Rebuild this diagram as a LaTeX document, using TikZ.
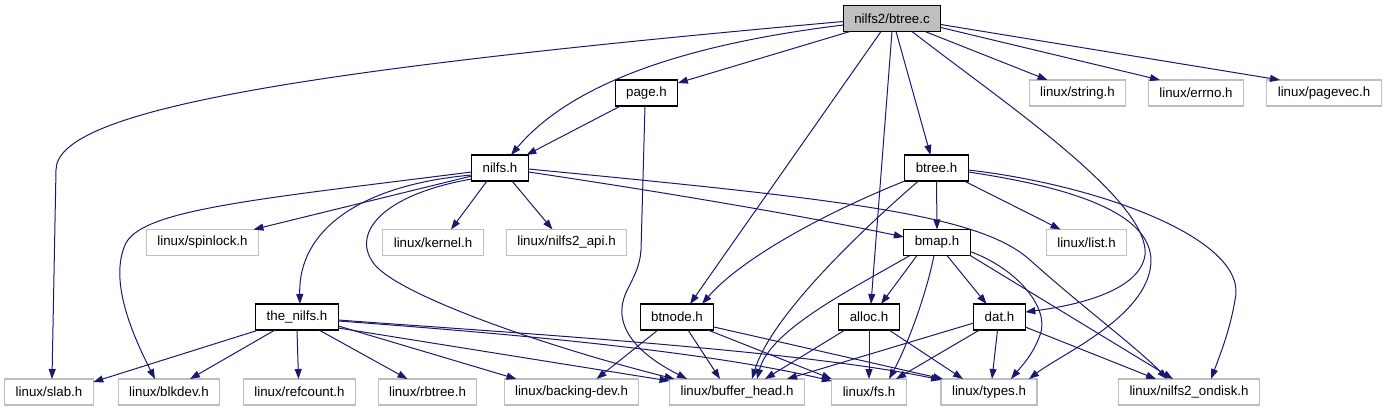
\documentclass[tikz,border=0pt]{standalone}
\usepackage{fontspec}
\setmainfont{Liberation Sans}
\usetikzlibrary{arrows.meta}
\definecolor{edgeblue}{HTML}{191970}
\definecolor{extgray}{HTML}{BFBFBF}
\definecolor{rootgray}{HTML}{BFBFBF}
\begin{document}
\begin{tikzpicture}[x=1pt,y=-1pt,
  box/.style={font=\fontsize{13.3}{15}\selectfont, inner xsep=11pt, inner ysep=0pt, minimum height=26pt, outer sep=0pt, line width=1.1pt, fill=white},
  ext/.style={box, draw=extgray},
  int/.style={box, draw=black},
  root/.style={box, draw=black, fill=rootgray},
  dep/.style={draw=edgeblue, line width=1pt, -{Triangle[length=10pt,width=7pt]}}]
\useasboundingbox (0,0) rectangle (1386,411);
% nodes
\node[root] (btreec) at (892,18.5) {nilfs2/btree.c};
\node[int] (pageh) at (646.5,93) {page.h};
\node[ext] (string) at (1077.5,93) {linux/string.h};
\node[ext] (errno) at (1196,93) {linux/errno.h};
\node[ext] (pagevec) at (1324,93) {linux/pagevec.h};
\node[int] (nilfs) at (500,168) {nilfs.h};
\node[int] (btreeh) at (936.5,168) {btree.h};
\node[ext] (spinlock) at (202.5,242.5) {linux/spinlock.h};
\node[ext] (kernel) at (433,242.5) {linux/kernel.h};
\node[ext] (api) at (566.5,242.5) {linux/nilfs2\_api.h};
\node[int] (bmap) at (937,242.5) {bmap.h};
\node[ext] (list) at (1086.5,242.5) {linux/list.h};
\node[int] (thenilfs) at (297,317) {the\_nilfs.h};
\node[int] (btnode) at (677,317) {btnode.h};
\node[int] (alloc) at (869,317) {alloc.h};
\node[int] (dat) at (999.5,317) {dat.h};
\node[ext] (slab) at (49,392) {linux/slab.h};
\node[ext] (blkdev) at (169,392) {linux/blkdev.h};
\node[ext] (refcount) at (299.5,392) {linux/refcount.h};
\node[ext] (rbtree) at (427.5,392) {linux/rbtree.h};
\node[ext] (backing) at (571.5,392) {linux/backing-dev.h};
\node[ext] (bufferhead) at (737,392) {linux/buffer\_head.h};
\node[ext] (fs) at (869,392) {linux/fs.h};
\node[ext] (types) at (989,392) {linux/types.h};
\node[ext] (ondisk) at (1189,392) {linux/nilfs2\_ondisk.h};
% btree.c
\draw[dep] ([yshift=-3pt]btreec.west) .. controls (300,70) and (56,110) .. (56,170) -- ([xshift=3pt]slab.north);
\draw[dep] ([yshift=-6.5pt]btreec.west) .. controls (680,45) and (570,85) .. ([xshift=11pt]nilfs.north);
\draw[dep] ([xshift=-42pt]btreec.south) -- ([yshift=-3pt]pageh.north east);
\draw[dep] ([xshift=-11pt]btreec.south) -- ([xshift=13pt]btnode.north);
\draw[dep] (btreec.south) -- ([xshift=2pt]alloc.north);
\draw[dep] ([xshift=4pt]btreec.south) -- ([xshift=-6pt]btreeh.north);
\draw[dep] ([xshift=20pt]btreec.south) .. controls (1000,100) and (1150,200) .. (1145,255) .. controls (1140,290) and (1080,305) .. ([yshift=5pt]dat.east);
\draw[dep] ([xshift=33pt]btreec.south) -- ([xshift=-30pt]string.north);
\draw[dep] ([yshift=4pt]btreec.south east) -- ([xshift=-36pt]errno.north);
\draw[dep] ([yshift=7pt]btreec.south east) -- ([xshift=-44pt]pagevec.north);
% page.h
\draw[dep] ([xshift=-26pt]pageh.south) -- ([xshift=-2pt]nilfs.north east);
\draw[dep] ([xshift=-1.5pt]pageh.south) -- (641,250) .. controls (639,280) and (620,290) .. (622,315) .. controls (625,345) and (660,365) .. ([xshift=-50pt]bufferhead.north);
% nilfs.h
\draw[dep] ([yshift=-7pt]nilfs.west) .. controls (360,185) and (298,230) .. ([xshift=3pt]thenilfs.north);
\draw[dep] ([yshift=-4pt]nilfs.west) .. controls (250,200) and (140,210) .. (125,245) .. controls (110,280) and (130,330) .. ([xshift=-14pt]blkdev.north);
\draw[dep] ([yshift=-8pt]nilfs.west) -- ([xshift=51pt]spinlock.north);
\draw[dep] ([yshift=-11pt]nilfs.west) .. controls (380,195) and (350,235) .. (375,265) .. controls (400,295) and (540,345) .. ([xshift=5pt]bufferhead.north west);
\draw[dep] ([xshift=-13pt]nilfs.south) -- ([xshift=18pt]kernel.north);
\draw[dep] ([xshift=12pt]nilfs.south) -- ([xshift=-14pt]api.north);
\draw[dep] ([yshift=-4pt]nilfs.east) .. controls (650,190) and (800,215) .. ([yshift=5.5pt]bmap.west);
\draw[dep] ([yshift=-1pt]nilfs.east) .. controls (850,200) and (980,215) .. (1030,260) .. controls (1080,305) and (1140,350) .. ([xshift=-22pt]ondisk.north);
% the_nilfs.h
\draw[dep] ([xshift=3pt]thenilfs.south west) -- ([yshift=-3pt]slab.north east);
\draw[dep] ([xshift=-22pt]thenilfs.south) -- ([xshift=21pt]blkdev.north);
\draw[dep] (thenilfs.south) -- ([xshift=-1pt]refcount.north);
\draw[dep] ([xshift=22pt]thenilfs.south) -- ([xshift=-20pt]rbtree.north);
\draw[dep] ([yshift=4pt]thenilfs.south east) -- ([xshift=-55pt]backing.north);
\draw[dep] ([yshift=2pt]thenilfs.south east) -- ([yshift=-2pt]bufferhead.north west);
\draw[dep] ([yshift=-4pt]thenilfs.east) .. controls (500,333) and (700,350) .. ([yshift=-2pt]fs.north west);
\draw[dep] ([yshift=-3pt]thenilfs.east) .. controls (500,332) and (800,350) .. ([yshift=-1pt]types.north west);
% btnode.h
\draw[dep] ([xshift=-19pt]btnode.south) -- ([xshift=25pt]backing.north);
\draw[dep] ([xshift=11pt]btnode.south) -- ([xshift=-17pt]bufferhead.north);
\draw[dep] ([xshift=-6pt]btnode.south east) -- (fs.north west);
\draw[dep] ([yshift=3pt]btnode.south east) -- ([xshift=2pt]types.north west);
% btree.h
\draw[dep] (btreeh.south west) .. controls (820,215) and (740,260) .. ([xshift=25pt]btnode.north);
\draw[dep] ([xshift=-18pt]btreeh.south) .. controls (850,240) and (770,320) .. ([xshift=15pt]bufferhead.north);
\draw[dep] (btreeh.south) -- (bmap.north);
\draw[dep] ([xshift=-4pt]btreeh.south east) -- ([xshift=-26pt]list.north);
\draw[dep] ([yshift=-4pt]btreeh.east) .. controls (1090,190) and (1160,220) .. (1150,270) .. controls (1140,320) and (1060,355) .. ([xshift=40pt]types.north);
\draw[dep] ([yshift=-2pt]btreeh.east) .. controls (1100,185) and (1250,240) .. (1235,300) .. controls (1230,330) and (1220,355) .. ([xshift=22pt]ondisk.north);
% bmap.h
\draw[dep] ([xshift=-27pt]bmap.south) .. controls (850,290) and (770,330) .. ([xshift=20pt]bufferhead.north);
\draw[dep] ([xshift=-20pt]bmap.south) -- ([xshift=12pt]alloc.north);
\draw[dep] ([xshift=-3pt]bmap.south) .. controls (925,300) and (905,350) .. ([xshift=20pt]fs.north);
\draw[dep] ([xshift=10pt]bmap.south) -- ([xshift=-13pt]dat.north);
\draw[dep] ([yshift=-9pt]bmap.east) .. controls (1020,270) and (1050,310) .. (1040,335) .. controls (1033,355) and (1020,368) .. ([xshift=22pt]types.north);
\draw[dep] (bmap.south east) -- ([xshift=-16pt]ondisk.north);
% alloc.h
\draw[dep] ([xshift=-24pt]alloc.south) -- ([xshift=28pt]bufferhead.north);
\draw[dep] (alloc.south) -- (fs.north);
\draw[dep] ([xshift=20pt]alloc.south) -- ([xshift=-26pt]types.north);
% dat.h
\draw[dep] ([yshift=-6pt]dat.west) -- ([xshift=50pt]bufferhead.north);
\draw[dep] ([xshift=-20pt]dat.south) -- ([xshift=27pt]fs.north);
\draw[dep] ([xshift=-2pt]dat.south) -- ([xshift=3pt]types.north);
\draw[dep] ([yshift=-10pt]dat.east) -- ([xshift=-33pt]ondisk.north);
\end{tikzpicture}
\end{document}
